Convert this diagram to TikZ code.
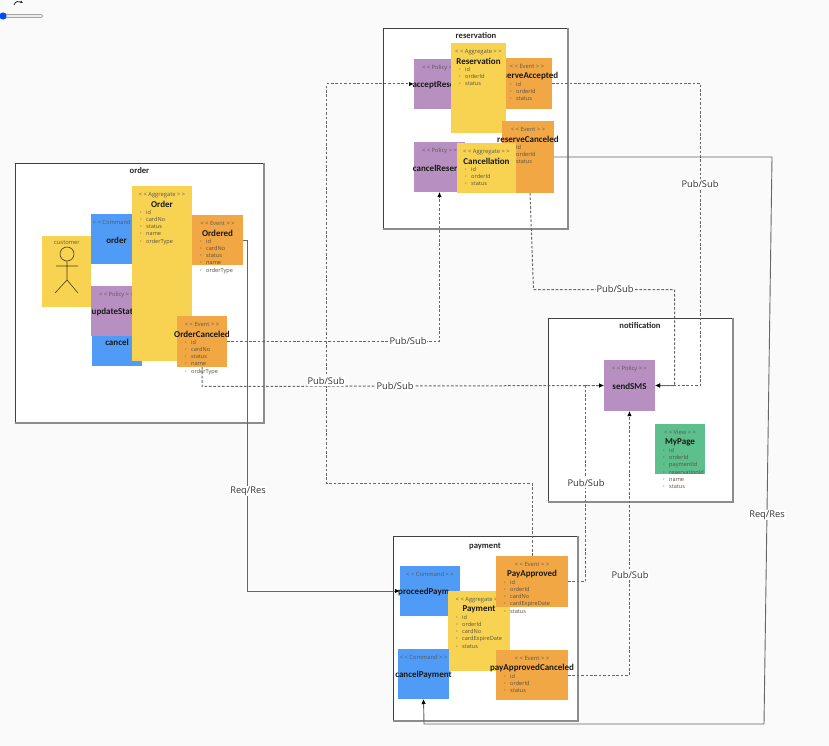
\documentclass[tikz,border=0pt]{standalone}
\usepackage{fontspec}
\setmainfont{Open Sans}
\newfontfamily\titlefont{Carlito}
\usetikzlibrary{arrows.meta}
\definecolor{cblue}{HTML}{4F9BF6}
\definecolor{cyellow}{HTML}{F8D352}
\definecolor{corange}{HTML}{F2A745}
\definecolor{cpurple}{HTML}{B78FC0}
\definecolor{cgreen}{HTML}{5CBF8C}
\definecolor{cline}{HTML}{666666}
\definecolor{cattr}{HTML}{5A5040}
\tikzset{
  groupbox/.style={draw=black!75,line width=.7pt,fill=white,inner sep=0,outer sep=0},
  groupshade/.style={draw=black!45,line width=1.2pt},
  grouplabel/.style={font=\fontsize{8.6}{9}\selectfont\titlefont\bfseries,text=black!85,inner sep=0},
  cardbox/.style={inner sep=0,outer sep=0,draw=none},
  stereo/.style={font=\fontsize{5.8}{6}\selectfont,text=black!65,inner sep=0},
  cardtitle/.style={font=\fontsize{9}{10}\selectfont\titlefont\bfseries,text=black!90,inner sep=0},
  attr/.style={font=\fontsize{5.6}{6}\selectfont,text=cattr,inner sep=0,anchor=west},
  rr/.style={draw=cline,line width=.9pt,-{Latex[length=5pt,width=4.5pt,black]}},
  pub/.style={draw=cline,line width=1pt,dash pattern=on 2.6pt off 1.8pt,-{Latex[length=5pt,width=4.5pt,black]}},
  linklabel/.style={font=\fontsize{9.3}{10}\selectfont,text=black!80,fill=white,inner sep=1pt}
}
\newcommand\cardbase[7]{%
  \node[cardbox,fill=#6,minimum width=#4pt,minimum height=#5pt] (#1) at ({#2+#4/2},{#3+#5/2}) {};
  \node[stereo] (#1-s) at ({#2+#4/2},{#3+8.7}) {<{} < #7 >{} >};
}
\newcommand\simplecard[8]{%
  \cardbase{#1}{#2}{#3}{#4}{#5}{#6}{#7}
  \node[cardtitle] (#1-t) at ({#2+#4/2},{#3+26}) {#8};
}
\newcommand\listcard[9]{%
  \cardbase{#1}{#2}{#3}{#4}{#5}{#6}{#7}
  \node[cardtitle] (#1-t) at ({#2+#4/2},{#3+18}) {#8};
  \foreach \a [count=\i] in {#9} {
    \node[attr] (#1-a\i) at ({#2+8},{#3+26+(\i-1)*7.4}) {\makebox[6pt][l]{\textbf{·}}\a};
  }
}
\newcommand\groupframe[1]{\draw[groupshade] (#1.north east) -- (#1.south east) -- (#1.south west);}
\begin{document}
\begin{tikzpicture}[x=1pt,y=-1pt]
\useasboundingbox (0,0) rectangle (829,746);
\fill[white!98!black] (0,0) rectangle (829,746);
% slider
\draw[black!35,fill=black!8,line width=.6pt,rounded corners=1.5pt] (3,14.5) rectangle (43,17.5);
\fill[blue!70!cyan] (3,16) circle (3.6pt);
\draw[black!80,line width=.9pt,-{Latex[length=2.5pt,width=3pt]}] (14,5) .. controls (15,1) and (19,1) .. (23,3);
% groups
\node[groupbox,minimum width=249pt,minimum height=260pt] (order) at (139.5,293) {};
\groupframe{order}
\node[grouplabel] (orderL) at (139.5,171) {order};
\node[groupbox,minimum width=185pt,minimum height=201pt] (reservation) at (475.5,128.5) {};
\groupframe{reservation}
\node[grouplabel] (reservationL) at (476,36) {reservation};
\node[groupbox,minimum width=185pt,minimum height=184pt] (notification) at (640.5,410) {};
\groupframe{notification}
\node[grouplabel] (notificationL) at (640,326) {notification};
\node[groupbox,minimum width=185pt,minimum height=185pt] (payment) at (485.5,628.5) {};
\groupframe{payment}
\node[grouplabel] (paymentL) at (485,546) {payment};
% order
\node[cardbox,fill=cyellow,minimum width=49pt,minimum height=71pt] (customer) at (66.5,271.5) {};
\node[stereo] (customerL) at (67,243) {customer};
\draw[black!70!cyellow,line width=.6pt] (67,254) circle (7pt) (67,261) -- (67,280) (56,266) -- (78,266) (55,293) -- (67,280) -- (78,293);
\simplecard{cmdOrder}{91}{214}{51}{50}{cblue}{Command}{order}
\simplecard{cmdCancel}{92}{316}{50}{50}{cblue}{Command}{cancel}
\simplecard{polUpdate}{91}{286}{51}{50}{cpurple}{Policy}{updateStatus}
\listcard{aggOrder}{132}{186}{60}{175}{cyellow}{Aggregate}{Order}{id,cardNo,status,name,orderType}
\listcard{evOrdered}{192}{215}{51}{50}{corange}{Event}{Ordered}{id,cardNo,status,name,orderType}
\listcard{evCanceled}{177}{316}{50}{51}{corange}{Event}{OrderCanceled}{id,cardNo,status,name,orderType}
% reservation
\simplecard{polAccept}{414}{59}{51}{50}{cpurple}{Policy}{acceptReserve}
\listcard{evAccepted}{502}{58}{50}{51}{corange}{Event}{reserveAccepted}{id,orderId,status}
\listcard{aggRes}{451}{43}{55}{90}{cyellow}{Aggregate}{Reservation}{id,orderId,status}
\listcard{evResCanceled}{502}{121}{52}{72}{corange}{Event}{reserveCanceled}{id,orderId,status}
\simplecard{polCancel}{414}{142}{51}{50}{cpurple}{Policy}{cancelReserve}
\listcard{aggCancel}{457}{143}{59}{50}{cyellow}{Aggregate}{Cancellation}{id,orderId,status}
% notification
\simplecard{polSMS}{604}{360}{51}{51}{cpurple}{Policy}{sendSMS}
\listcard{viewMy}{655}{424}{50}{50}{cgreen}{View}{MyPage}{id,orderId,paymentId,reservationId,name,status}
% payment
\simplecard{cmdProceed}{400}{566}{60}{50}{cblue}{Command}{}
\node[cardtitle,anchor=west] (cmdProceed-tt) at (398,592) {proceedPaym};
\listcard{aggPay}{448}{591}{62}{80}{cyellow}{Aggregate}{Payment}{id,orderId,cardNo,cardExpireDate,status}
\listcard{evPay}{496}{556}{72}{51}{corange}{Event}{PayApproved}{id,orderId,cardNo,cardExpireDate,status}
\listcard{evPayCancel}{496}{650}{72}{50}{corange}{Event}{payApprovedCanceled}{id,orderId,status}
\simplecard{cmdCancelPay}{398}{649}{51}{50}{cblue}{Command}{cancelPayment}
% bend points
\coordinate (b1) at (247.5,591);
\coordinate (b2) at (772,157);
\coordinate (b3) at (764,724);
\coordinate (b4) at (424,724);
\coordinate (b5) at (532,483.5);
\coordinate (b6) at (326.5,483.5);
\coordinate (b7) at (326.5,84);
\coordinate (b8) at (700.5,83.5);
\coordinate (b9) at (700.5,385.5);
\coordinate (b10) at (533.5,289.5);
\coordinate (b11) at (674.5,289.5);
\coordinate (b12) at (674.5,385.5);
\coordinate (b13) at (585.5,581.5);
\coordinate (b14) at (585.5,385.5);
\coordinate (b15) at (629.5,675);
\coordinate (b16) at (202,386.5);
\coordinate (b17) at (439.5,341.5);
% connectors
\draw[rr] (evOrdered.east) -| (b1) -- (cmdProceed.west);
\draw[rr] (evResCanceled.east) -- (b2) -- (b3) -- (b4) -- (cmdCancelPay.south);
\draw[pub] (evCanceled.east) -- (b17) -- (polCancel.south);
\draw[pub] (evCanceled.south) -- (b16) -- (polSMS.west);
\draw[pub] (evPay.north) -- (b5) -- (b6) -- (b7) -- (polAccept.west);
\draw[pub] (evAccepted.east) -- (b8) -- (b9) -- (polSMS.east);
\draw[pub] ([xshift=2pt]evResCanceled.south) -- (b10) -- (b11) -- (b12) -- (polSMS.east);
\draw[pub] (evPay.east) -- (b13) -- (b14) -- (polSMS.west);
\draw[pub] (evPayCancel.east) -- (b15) -- (polSMS.south);
% labels
\node[linklabel] (l1) at (248,491) {Req/Res};
\node[linklabel] (l2) at (767,515) {Req/Res};
\node[linklabel] (l3) at (408,341.5) {Pub/Sub};
\node[linklabel] (l4) at (395,386) {Pub/Sub};
\node[linklabel] (l5) at (326,381) {Pub/Sub};
\node[linklabel] (l6) at (700,184) {Pub/Sub};
\node[linklabel] (l7) at (615,289) {Pub/Sub};
\node[linklabel] (l8) at (586,483) {Pub/Sub};
\node[linklabel] (l9) at (630,575) {Pub/Sub};
\end{tikzpicture}
\end{document}
